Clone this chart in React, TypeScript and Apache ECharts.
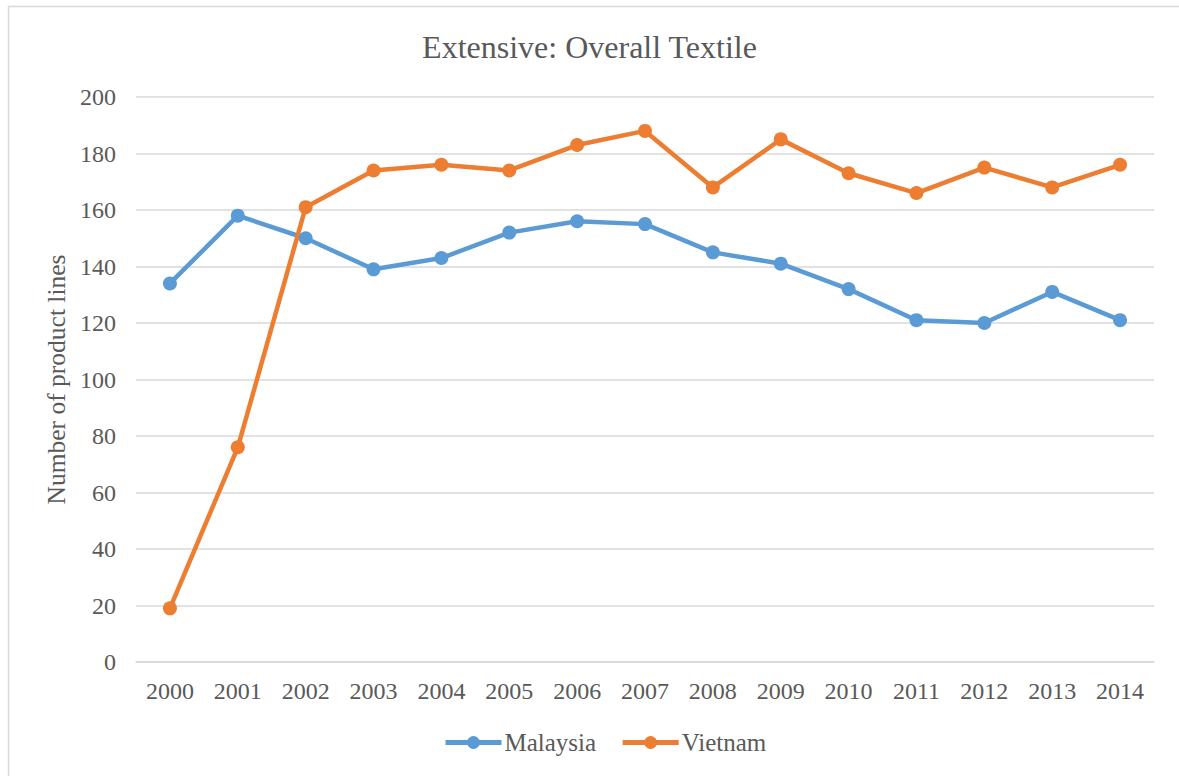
import React, { useEffect, useRef } from "react";
import * as echarts from "echarts";

const years = ["2000", "2001", "2002", "2003", "2004", "2005", "2006", "2007", "2008", "2009", "2010", "2011", "2012", "2013", "2014"];
const malaysia = [134, 158, 150, 139, 143, 152, 156, 155, 145, 141, 132, 121, 120, 131, 121];
const vietnam = [19, 76, 161, 174, 176, 174, 183, 188, 168, 185, 173, 166, 175, 168, 176];
const titleText = "Extensive: Overall Textile";
const yAxisName = "Number of product lines";

const FONT = "'Liberation Serif', 'Times New Roman', serif";
const TEXT = "#595959";
const GRID = "#d9d9d9";

export default function App() {
  const ref = useRef<HTMLDivElement>(null);
  useEffect(() => {
    if (!ref.current) return;
    const chart = echarts.init(ref.current, null, { renderer: "svg" });
    chart.setOption({
      animation: false,
      backgroundColor: "#ffffff",
      textStyle: { fontFamily: FONT, color: TEXT },
      graphic: [
        {
          type: "rect",
          shape: { x: 8.5, y: 6.5, width: 1300, height: 900 },
          style: { fill: "none", stroke: GRID, lineWidth: 1.5 },
          silent: true,
          z: -1,
        },
      ],
      title: {
        text: titleText,
        left: "center",
        top: 26,
        textStyle: { fontFamily: FONT, fontSize: 32, fontWeight: "normal", color: TEXT },
      },
      legend: {
        top: 725,
        left: 438,
        itemWidth: 56,
        itemHeight: 16,
        itemGap: 24,
        lineStyle: { width: 5 },
        textStyle: { fontFamily: FONT, fontSize: 25, color: TEXT, padding: [0, 0, 0, -2] },
        data: ["Malaysia", "Vietnam"],
      },
      grid: { left: 136, right: 25, top: 97, bottom: 114, containLabel: false },
      xAxis: {
        type: "category",
        data: years,
        boundaryGap: true,
        axisLine: { show: true, lineStyle: { color: GRID, width: 1.5 } },
        axisTick: { show: false },
        axisLabel: { fontFamily: FONT, fontSize: 24, color: TEXT, margin: 17 },
      },
      yAxis: {
        type: "value",
        min: 0,
        max: 200,
        interval: 20,
        name: yAxisName,
        nameLocation: "middle",
        nameGap: 66,
        nameTextStyle: { fontFamily: FONT, fontSize: 25.5, color: TEXT },
        axisLine: { show: false },
        axisTick: { show: false },
        axisLabel: { fontFamily: FONT, fontSize: 24, color: TEXT, margin: 20 },
        splitLine: { lineStyle: { color: GRID, width: 1.5 } },
      },
      series: [
        {
          name: "Malaysia",
          type: "line",
          data: malaysia,
          symbol: "circle",
          symbolSize: 14,
          lineStyle: { color: "#5B9BD5", width: 4.5 },
          itemStyle: { color: "#5B9BD5" },
        },
        {
          name: "Vietnam",
          type: "line",
          data: vietnam,
          symbol: "circle",
          symbolSize: 14,
          lineStyle: { color: "#ED7D31", width: 4.5 },
          itemStyle: { color: "#ED7D31" },
        },
      ],
    });
    return () => chart.dispose();
  }, []);
  return (
    <div
      ref={ref}
      style={{ position: "absolute", left: 0, top: 0, width: 1179, height: 776 }}
    />
  );
}
